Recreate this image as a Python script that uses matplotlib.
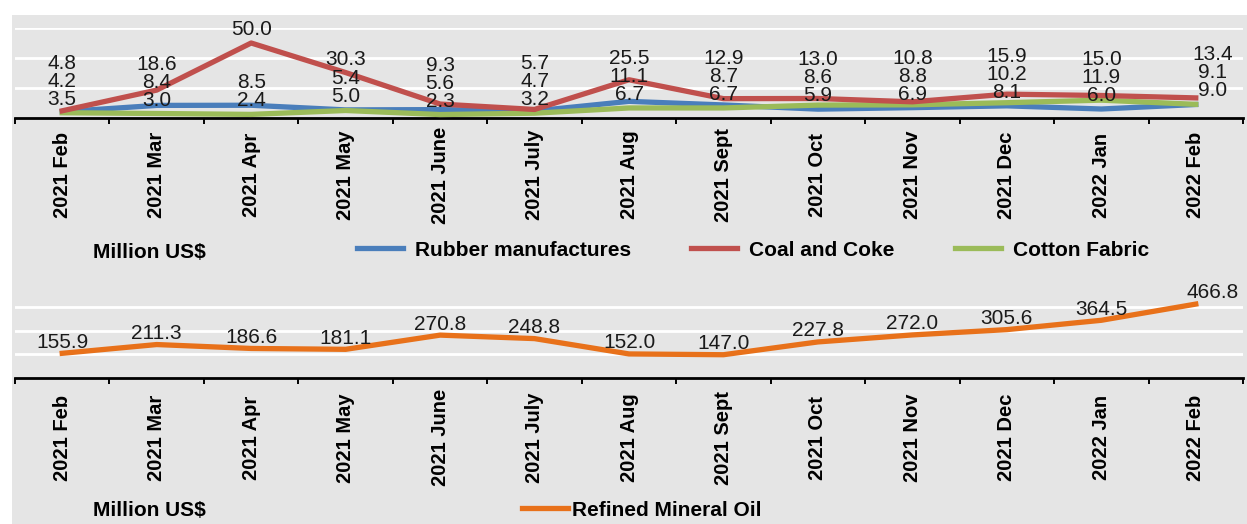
import numpy as np
import matplotlib
matplotlib.use("Agg")
import matplotlib.pyplot as plt
from matplotlib.lines import Line2D
from matplotlib.patches import Rectangle

# Monthly exports (Million US$)
months = ["2021 Feb", "2021 Mar", "2021 Apr", "2021 May", "2021 June", "2021 July", "2021 Aug",
          "2021 Sept", "2021 Oct", "2021 Nov", "2021 Dec", "2022 Jan", "2022 Feb"]
rubber = [4.2, 8.4, 8.5, 5.4, 5.6, 4.7, 11.1, 8.7, 5.9, 6.9, 8.1, 6.0, 9.0]
coal = [4.8, 18.6, 50.0, 30.3, 9.3, 5.7, 25.5, 12.9, 13.0, 10.8, 15.9, 15.0, 13.4]
cotton = [3.5, 3.0, 2.4, 5.0, 2.3, 3.2, 6.7, 6.7, 8.6, 8.8, 10.2, 11.9, 9.1]
oil = [155.9, 211.3, 186.6, 181.1, 270.8, 248.8, 152.0, 147.0, 227.8, 272.0, 305.6, 364.5, 466.8]

plt.rcParams['font.family'] = ['Liberation Sans', 'DejaVu Sans']

W, H = 1247, 524
blue, red, green, orange = "#4A7EBB", "#C0504D", "#9BBB59", "#E8711A"
bg = "#E5E5E5"
lw = 3.8
fs = 15        # data labels
tfs = 14.5     # category labels
lfs = 15       # legend / unit text

fig = plt.figure(figsize=(W/100, H/100), dpi=100)
fig.patches.append(Rectangle((12/W, 0), 1-12/W, 1-15/H, transform=fig.transFigure,
                             facecolor=bg, edgecolor="none", zorder=-10))

x = np.arange(len(months))


def style_axis(ax, ymax, grid, pad):
    ax.set_facecolor("none")
    ax.set_xlim(-0.5, len(months)-0.5)
    ax.set_ylim(0, ymax)
    for s in ["left", "right", "top"]:
        ax.spines[s].set_visible(False)
    ax.spines["bottom"].set_linewidth(2)
    ax.set_yticks(grid)
    ax.set_yticklabels([])
    ax.tick_params(axis="y", length=0)
    ax.yaxis.grid(True, color="white", lw=2)
    ax.set_axisbelow(True)
    ax.set_xticks(x)
    ax.set_xticklabels(months, rotation=90, va="center", fontweight="bold", fontsize=tfs)
    ax.tick_params(axis="x", which="major", length=0, pad=pad)
    ax.set_xticks(np.arange(-0.5, len(months), 1), minor=True)
    ax.tick_params(axis="x", which="minor", length=4.3, width=1.4, direction="out")


# Top chart: rubber, coal, cotton
ax1 = fig.add_axes([15/W, 1-118/H, 1228/W, 90/H])
style_axis(ax1, 60, [20, 40, 60], 41)
ax1.plot(x, rubber, color=blue, lw=lw, solid_joinstyle="round", zorder=3)
ax1.plot(x, cotton, color=green, lw=lw, solid_joinstyle="round", zorder=4)
ax1.plot(x, coal, color=red, lw=lw, solid_joinstyle="round", zorder=5)

# stacked data labels above the points
for i in x:
    vals = sorted([rubber[i], coal[i], cotton[i]])
    prev = None
    for v in vals:
        y = v + 9 if prev is None else max(v + 9, prev + 12)
        prev = y
        dx = 12 if i == len(months)-1 else 0
        ax1.annotate(f"{v:.1f}", (i, y), xytext=(dx, 0), textcoords="offset points",
                     ha="center", va="center", fontsize=fs, color="#1a1a1a",
                     annotation_clip=False, zorder=6)

# Bottom chart: refined mineral oil
ax2 = fig.add_axes([15/W, 1-378/H, 1228/W, 95/H])
style_axis(ax2, 600, [150, 300, 450], 43)
ax2.plot(x, oil, color=orange, lw=lw, solid_joinstyle="round", zorder=3)
for i in x:
    dx = 12 if i == len(months)-1 else 0
    ax2.annotate(f"{oil[i]:.1f}", (i, oil[i]), xytext=(dx, 8), textcoords="offset points",
                 ha="center", va="center", fontsize=fs, color="#1a1a1a",
                 annotation_clip=False, zorder=6)

# Legends and unit labels
handles = [Line2D([], [], color=c, lw=lw) for c in (blue, red, green)]
fig.legend(handles, ["Rubber manufactures", "Coal and Coke", "Cotton Fabric"],
           loc="center left", bbox_to_anchor=(357/W, 1-250/H), ncol=3, frameon=False,
           prop={"weight": "bold", "size": lfs}, handlelength=2.2, handletextpad=0.58,
           columnspacing=2.9, borderpad=0, borderaxespad=0)
fig.legend([Line2D([], [], color=orange, lw=lw)], ["Refined Mineral Oil"],
           loc="center left", bbox_to_anchor=(522/W, 1-510/H), frameon=False,
           prop={"weight": "bold", "size": lfs}, handlelength=2.2, handletextpad=0.2,
           borderpad=0, borderaxespad=0)
fig.text(93/W, 1-252/H, "Million US$", fontweight="bold", fontsize=lfs, va="center")
fig.text(93/W, 1-510/H, "Million US$", fontweight="bold", fontsize=lfs, va="center")

fig.savefig("out.png", dpi=100)
plt.close(fig)
